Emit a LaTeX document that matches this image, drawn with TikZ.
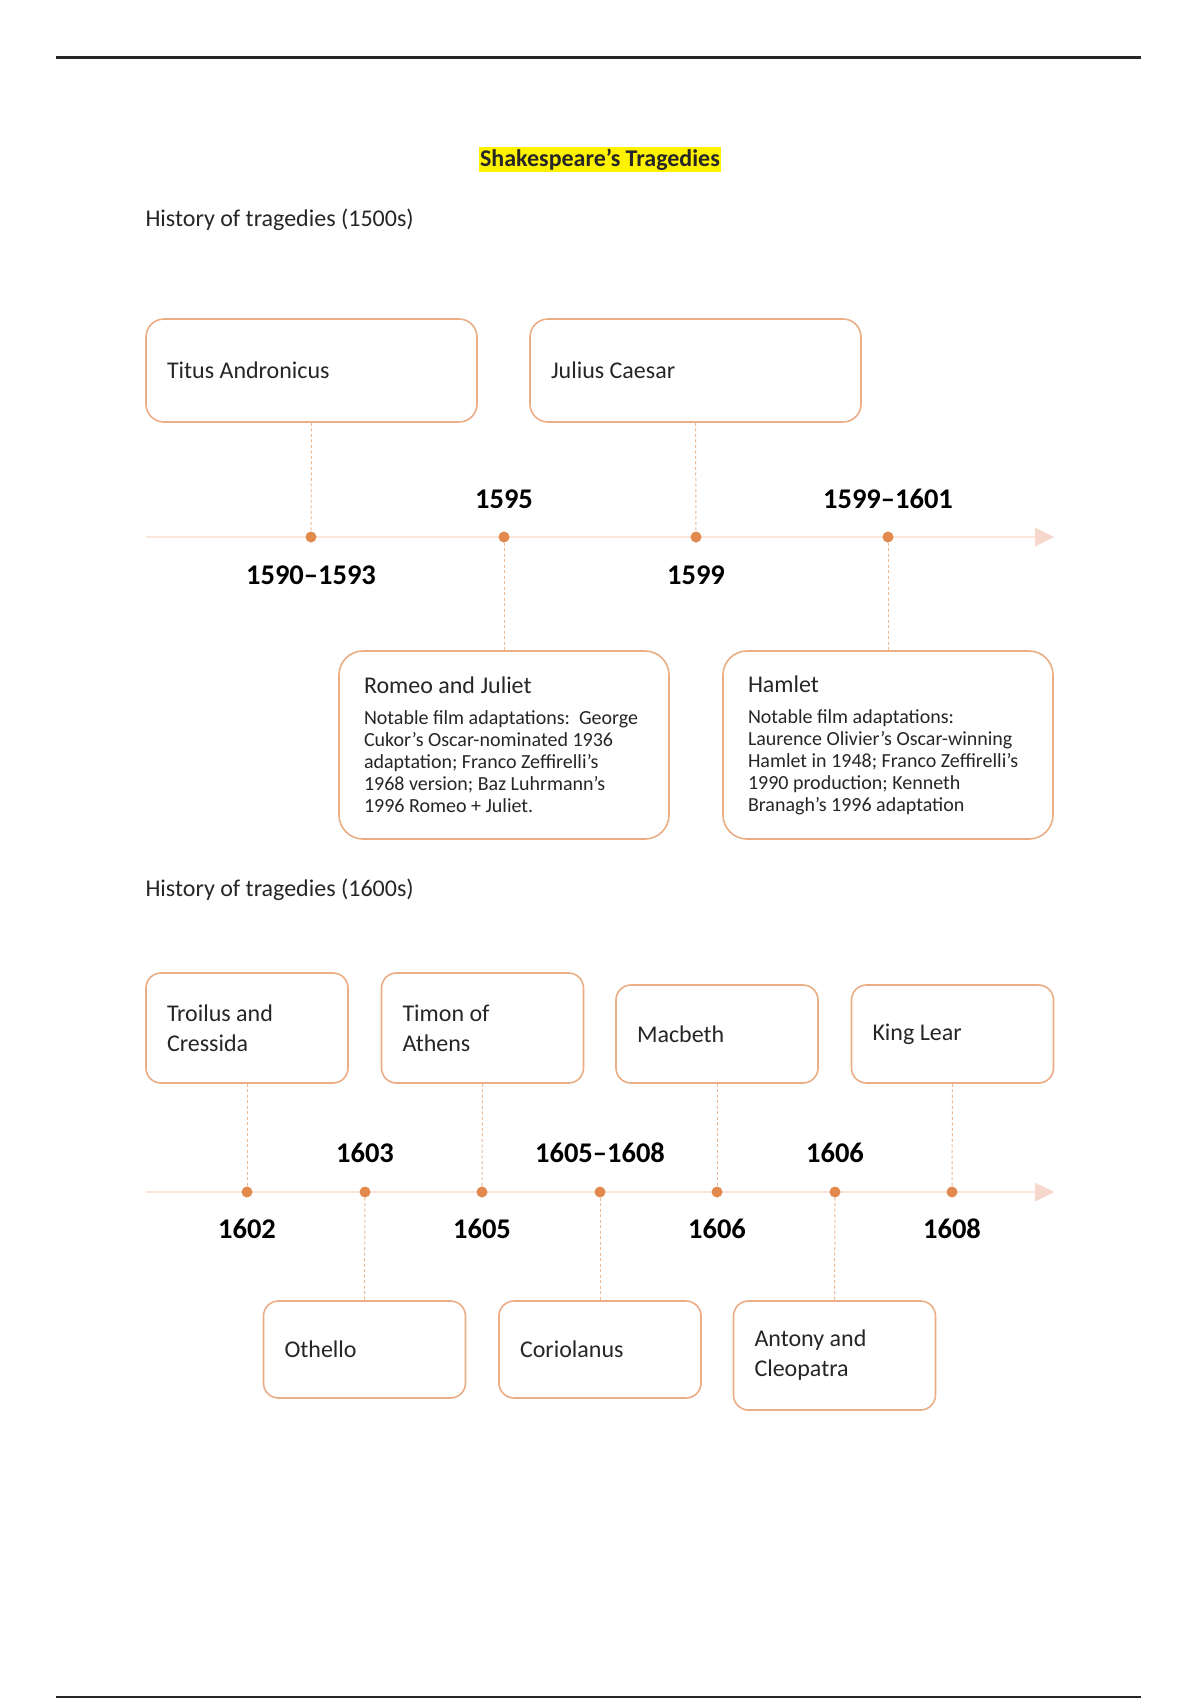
\documentclass[tikz,border=0pt]{standalone}
\usepackage{fontspec}
\setmainfont{Carlito}
\definecolor{boxc}{HTML}{EBAD85}
\definecolor{dotc}{HTML}{E28A4E}
\definecolor{linec}{HTML}{FBE6DA}
\definecolor{arrc}{HTML}{F7D6CB}
\definecolor{dashc}{HTML}{EDB995}
\definecolor{txt}{HTML}{262626}
\newcommand\bxt[2]{\begin{minipage}{#1}\raggedright #2\end{minipage}}
\begin{document}
\begin{tikzpicture}[x=1pt,y=-1pt,
  tbox/.style={draw=boxc, line width=1.6pt, rounded corners=18pt, fill=white,
    inner xsep=21pt, inner ysep=0pt, font=\fontsize{24}{30}\selectfont, text=txt},
  bigbox/.style={tbox, rounded corners=24pt, inner xsep=25pt, minimum width=330pt, minimum height=188pt},
  sbox/.style={tbox, rounded corners=15pt, minimum width=202pt},
  tdot/.style={circle, fill=dotc, inner sep=0pt, minimum size=11pt},
  yr/.style={font=\bfseries\fontsize{28.5}{32}\selectfont, text=black},
  conn/.style={draw=dashc, line width=1pt, dash pattern=on 3pt off 2.5pt},
  tline/.style={draw=linec, line width=2.5pt},
  hist/.style={anchor=west, font=\fontsize{24}{28}\selectfont, text=txt}]
\useasboundingbox (0,0) rectangle (1200,1700);
\fill[white] (0,0) rectangle (1200,1700);
% page rules
\coordinate (tl) at (56,57.5); \coordinate (tr) at (1141,57.5);
\coordinate (bl) at (56,1697); \coordinate (br) at (1141,1697);
\draw[line width=2.5pt, black!85] (tl) -- (tr);
\draw[line width=2.5pt, black!85] (bl) -- (br);
% title
\node[fill=yellow, inner xsep=1pt, inner ysep=2pt, font=\bfseries\fontsize{24}{28}\selectfont, text=txt] (title) at (600,159.5) {Shakespeare’s Tragedies};
\node[hist] (h1) at (142,220) {History of tragedies (1500s)};
\node[hist] (h2) at (142,890) {History of tragedies (1600s)};

% ---------- timeline 1 ----------
\coordinate (a0) at (146,537); \coordinate (a1) at (1037,537);
\draw[tline] (a0) -- (a1);
\fill[arrc] (1035,527.5) -- (1054,537) -- (1035,546.5) -- cycle;
\node[tdot] (d1) at (311,537) {};
\node[tdot] (d2) at (504,537) {};
\node[tdot] (d3) at (696,537) {};
\node[tdot] (d4) at (888,537) {};

\node[tbox, minimum width=331pt, minimum height=103pt] (titus) at (311.5,370.5) {\bxt{289pt}{Titus Andronicus}};
\node[tbox, minimum width=331pt, minimum height=103pt] (julius) at (695.5,370.5) {\bxt{289pt}{Julius Caesar}};
\node[bigbox] (romeo) at (504,745)
  {\bxt{280pt}{\fontsize{24}{28}\selectfont Romeo and Juliet\par\vspace{9pt}\fontsize{20}{22}\selectfont
   \mbox{Notable film adaptations:\ \ George}\\ \mbox{Cukor’s Oscar-nominated 1936}\\ \mbox{adaptation; Franco Zeffirelli’s}\\ \mbox{1968 version; Baz Luhrmann’s}\\ \mbox{1996 Romeo + Juliet.}\par}};
\node[bigbox] (hamlet) at (888,745)
  {\bxt{280pt}{\fontsize{24}{28}\selectfont Hamlet\par\vspace{9pt}\fontsize{20}{22}\selectfont
   \mbox{Notable film adaptations:}\\ \mbox{Laurence Olivier’s Oscar-winning}\\ \mbox{Hamlet in 1948; Franco Zeffirelli’s}\\ \mbox{1990 production; Kenneth}\\ \mbox{Branagh’s 1996 adaptation}\par}};

\draw[conn] (titus.south) -- (d1);
\draw[conn] (julius.south) -- (d3);
\draw[conn] (d2) -- (romeo.north);
\draw[conn] (d4) -- (hamlet.north);

\node[yr] (y1) at (311,575) {1590–1593};
\node[yr] (y2) at (504,499) {1595};
\node[yr] (y3) at (696,575) {1599};
\node[yr] (y4) at (888,499) {1599–1601};

% ---------- timeline 2 ----------
\coordinate (b0) at (146,1192); \coordinate (b1) at (1037,1192);
\draw[tline] (b0) -- (b1);
\fill[arrc] (1035,1182.5) -- (1054,1192) -- (1035,1201.5) -- cycle;
\node[tdot] (e1) at (247,1192) {};
\node[tdot] (e2) at (365,1192) {};
\node[tdot] (e3) at (482,1192) {};
\node[tdot] (e4) at (600,1192) {};
\node[tdot] (e5) at (717,1192) {};
\node[tdot] (e6) at (835,1192) {};
\node[tdot] (e7) at (952,1192) {};

\node[sbox, minimum height=110pt] (troilus) at (247,1028) {\bxt{160pt}{Troilus and\\ Cressida}};
\node[sbox, minimum height=110pt] (timon) at (482.5,1028) {\bxt{160pt}{Timon of\\ Athens}};
\node[sbox, minimum height=98pt] (macbeth) at (717,1034) {\bxt{160pt}{Macbeth}};
\node[sbox, minimum height=98pt] (lear) at (952.5,1034) {\bxt{160pt}{King Lear}};
\node[sbox, minimum height=97pt] (othello) at (364.5,1349.5) {\bxt{160pt}{Othello}};
\node[sbox, minimum height=97pt] (corio) at (600,1349.5) {\bxt{160pt}{Coriolanus}};
\node[sbox, minimum height=109pt] (antony) at (834.5,1355.5) {\bxt{160pt}{Antony and\\ Cleopatra}};

\draw[conn] (troilus.south) -- (e1);
\draw[conn] (timon.south) -- (e3);
\draw[conn] (macbeth.south) -- (e5);
\draw[conn] (lear.south) -- (e7);
\draw[conn] (e2) -- (othello.north);
\draw[conn] (e4) -- (corio.north);
\draw[conn] (e6) -- (antony.north);

\node[yr] (z1) at (247,1229) {1602};
\node[yr] (z2) at (365,1153) {1603};
\node[yr] (z3) at (482,1229) {1605};
\node[yr] (z4) at (600,1153) {1605–1608};
\node[yr] (z5) at (717,1229) {1606};
\node[yr] (z6) at (835,1153) {1606};
\node[yr] (z7) at (952,1229) {1608};
\end{tikzpicture}
\end{document}
